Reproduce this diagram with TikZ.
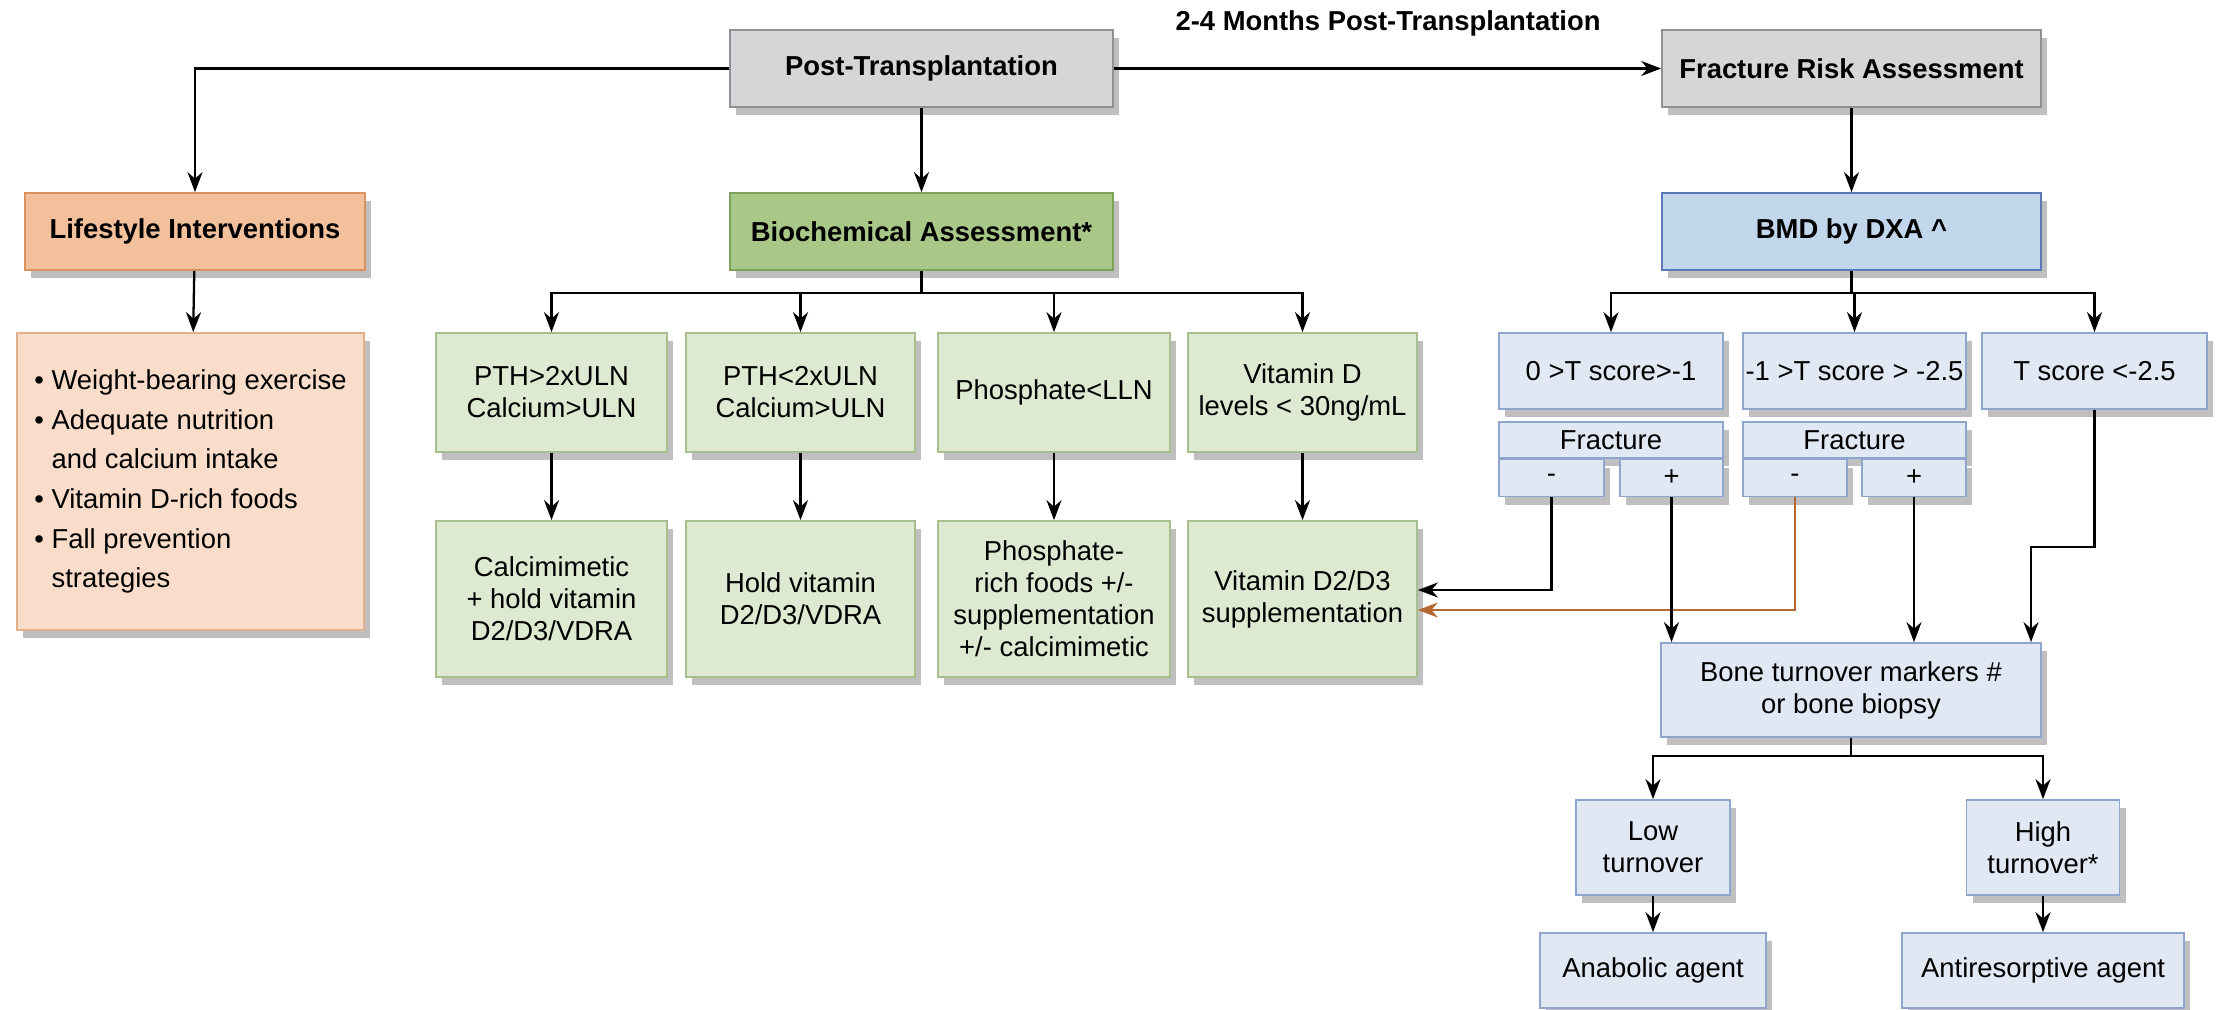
\documentclass[tikz,border=0pt]{standalone}
\usepackage{fontspec}
\setmainfont{Liberation Sans}
\usepackage{xcolor}
\usepackage{tikz}
\usetikzlibrary{arrows.meta}
\usetikzlibrary{positioning}
\usetikzlibrary{shadows}

\definecolor{grayfill}{HTML}{D4D6D8}
\definecolor{grayline}{HTML}{8E9194}
\definecolor{orangefill}{HTML}{F2C19B}
\definecolor{orangeline}{HTML}{D9915E}
\definecolor{peachfill}{HTML}{F9DDCA}
\definecolor{peachline}{HTML}{E3B08E}
\definecolor{greenfill}{HTML}{A9C787}
\definecolor{greenline}{HTML}{7DA35B}
\definecolor{palegreen}{HTML}{DDE9D0}
\definecolor{palegreenline}{HTML}{A7BF8D}
\definecolor{bluefill}{HTML}{C3D7EC}
\definecolor{blueline}{HTML}{5B78B8}
\definecolor{paleblue}{HTML}{E0E8F3}
\definecolor{paleblueline}{HTML}{8FA5CB}
\definecolor{linkorange}{HTML}{B5672F}

\begin{document}
\begin{tikzpicture}[x=0.1mm, y=-0.1mm, >={Stealth[length=2mm,width=1.5mm]}, line width=0.65pt, font=\fontsize{7.8}{9.1}\selectfont]
					\tikzstyle{box}=[draw, rectangle, align=center, inner sep=0pt, line width=0.5pt, drop shadow={shadow xshift=0.6mm, shadow yshift=-0.8mm, fill=black, opacity=0.25}]
					\tikzstyle{head}=[box, minimum height=7.7mm, font=\fontsize{7.8}{9.1}\selectfont\bfseries]
					\tikzstyle{grayhead}=[head, fill=grayfill, draw=grayline]
					\tikzstyle{orangehead}=[head, fill=orangefill, draw=orangeline]
					\tikzstyle{greenhead}=[head, fill=greenfill, draw=greenline]
					\tikzstyle{bluehead}=[head, fill=bluefill, draw=blueline]
					\tikzstyle{greenbox}=[box, fill=palegreen, draw=palegreenline]
					\tikzstyle{bluebox}=[box, fill=paleblue, draw=paleblueline]
					\useasboundingbox (0,0) rectangle (2224,1010);

					\node[font=\fontsize{7.8}{9.1}\selectfont\bfseries] (when) at (1388,23) {2-4 Months Post-Transplantation};
					\node[grayhead, minimum width=38.3mm] (post) at (921.5,68.5) {Post-Transplantation};
					\node[grayhead, minimum width=37.9mm] (fra) at (1851.5,68.5) {Fracture Risk Assessment};

					\node[orangehead, minimum width=34mm] (life) at (195,231.5) {Lifestyle Interventions};
					\node[greenhead, minimum width=38.3mm] (bio) at (921.5,231.5) {Biochemical Assessment*};
					\node[bluehead, minimum width=37.9mm] (bmd) at (1851.5,231.5) {BMD by DXA \textasciicircum};

					\node[box, fill=peachfill, draw=peachline, align=left, minimum width=34.7mm, minimum height=29.7mm, font=\fontsize{7.8}{11.3}\selectfont] (habits) at (190.5,481.5)
						{\textbullet\ Weight-bearing exercise\\
						 \textbullet\ Adequate nutrition\\
						 \phantom{\textbullet\ }and calcium intake\\
						 \textbullet\ Vitamin D-rich foods\\
						 \textbullet\ Fall prevention\\
						 \phantom{\textbullet\ }strategies};

					\node[greenbox, minimum width=23.1mm, minimum height=11.9mm] (c1) at (551.5,392.5) {PTH>2xULN\\Calcium>ULN};
					\node[greenbox, minimum width=22.9mm, minimum height=11.9mm] (c2) at (800.5,392.5) {PTH<2xULN\\Calcium>ULN};
					\node[greenbox, minimum width=23.2mm, minimum height=11.9mm] (c3) at (1054,392.5) {Phosphate<LLN};
					\node[greenbox, minimum width=22.9mm, minimum height=11.9mm] (c4) at (1302.5,392.5) {Vitamin D\\levels < 30ng/mL};

					\node[greenbox, minimum width=23.1mm, minimum height=15.6mm] (t1) at (551.5,599) {Calcimimetic\\+ hold vitamin\\D2/D3/VDRA};
					\node[greenbox, minimum width=22.9mm, minimum height=15.6mm] (t2) at (800.5,599) {Hold vitamin\\D2/D3/VDRA};
					\node[greenbox, minimum width=23.2mm, minimum height=15.6mm] (t3) at (1054,599) {Phosphate-\\rich foods +/-\\supplementation\\+/- calcimimetic};
					\node[greenbox, minimum width=22.9mm, minimum height=15.6mm] (t4) at (1302.5,599) {Vitamin D2/D3\\supplementation};

					\node[bluebox, minimum width=22.4mm, minimum height=7.6mm] (s1) at (1611,371) {0 >T score>-1};
					\node[bluebox, minimum width=22.3mm, minimum height=7.6mm] (s2) at (1854.5,371) {-1 >T score > -2.5};
					\node[bluebox, minimum width=22.5mm, minimum height=7.6mm] (s3) at (2094.5,371) {T score <-2.5};

					\node[bluebox, minimum width=22.4mm, minimum height=3.6mm, below=1.1mm of s1] (f1) {Fracture};
					\node[bluebox, minimum width=10.5mm, minimum height=3.7mm, anchor=north west] (f1n) at (f1.south west) {-};
					\node[bluebox, minimum width=10.3mm, minimum height=3.7mm, anchor=north east] (f1p) at (f1.south east) {+};
					\node[bluebox, minimum width=22.3mm, minimum height=3.6mm, below=1.1mm of s2] (f2) {Fracture};
					\node[bluebox, minimum width=10.4mm, minimum height=3.7mm, anchor=north west] (f2n) at (f2.south west) {-};
					\node[bluebox, minimum width=10.4mm, minimum height=3.7mm, anchor=north east] (f2p) at (f2.south east) {+};

					\node[bluebox, minimum width=38mm, minimum height=9.4mm] (bto) at (1851,690) {Bone turnover markers \#\\or bone biopsy};
					\node[bluebox, minimum width=15.4mm, minimum height=9.5mm] (low) at (1653,847.5) {Low\\turnover};
					\node[bluebox, minimum width=15.3mm, minimum height=9.5mm] (high) at (2043,847.5) {High\\turnover*};
					\node[bluebox, minimum width=22.6mm, minimum height=7.5mm] (ana) at (1653,970.5) {Anabolic agent};
					\node[bluebox, minimum width=28.2mm, minimum height=7.5mm] (anti) at (2043,970.5) {Antiresorptive agent};

					\coordinate (labs) at (921.5,293);
					\coordinate (scan) at (1851.5,293);
					\coordinate (bend) at (2031,547);
					\coordinate (split) at (1851,756);

					\draw[->] (post) -| (life);
					\draw (bio) -- (labs);
					\draw[->] (labs) -| (c1);
					\draw[->] (labs) -| (c2);
					\draw[->] (labs) -| (c3);
					\draw[->] (labs) -| (c4);
					\draw (bmd) -- (scan);
					\draw[->] (scan) -| (s1);
					\draw[->] (scan) -| (s2);
					\draw[->] (scan) -| (s3);
					\draw[->] (f1n.south) |- ([yshift=0.9mm]t4.east);
					\draw[->, draw=linkorange, line width=0.55pt, >={Stealth[length=2mm,width=1.5mm,fill=linkorange]}] (f2n.south) |- ([yshift=-1.1mm]t4.east);
					\draw[->] (f1p.south) -- (f1p.south |- bto.north);
					\draw[->] (f2p.south) -- (f2p.south |- bto.north);
					\draw[->] (s3) |- (bend) -- (bend |- bto.north);
					\draw (bto) -- (split);
					\draw[->] (split) -| (low);
					\draw[->] (split) -| (high);
					\path[->]
						(post) edge (bio)
						(post) edge (fra)
						(fra) edge (bmd)
						(life) edge (habits)
						(c1) edge (t1)
						(c2) edge (t2)
						(c3) edge (t3)
						(c4) edge (t4)
						(low) edge (ana)
						(high) edge (anti);
				\end{tikzpicture}
\end{document}
